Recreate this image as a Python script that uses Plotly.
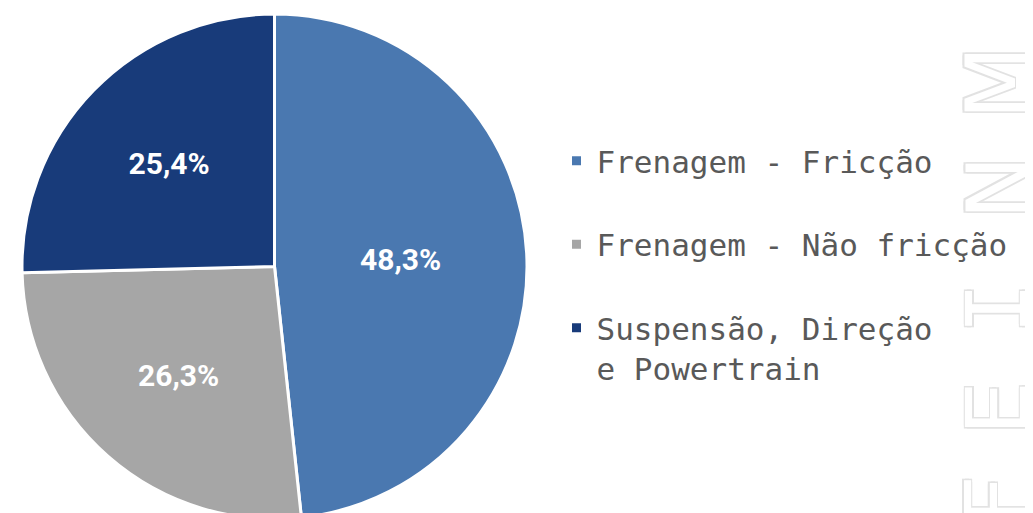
import plotly.graph_objects as go

categories = ["Frenagem - Fricção", "Frenagem - Não fricção", "Suspensão, Direção<br>e Powertrain"]
values = [48.3, 26.3, 25.4]
colors = ["#4A78B0", "#A6A6A6", "#183B7A"]

# faint outlined watermark letters on the right edge (read bottom to top)
wm_letters = ["M", "N", "I", "E", "F"]
wm_centers = [0.855, 0.650, 0.415, 0.220, 0.040]
wm_fonts = ["DejaVu Sans", "DejaVu Sans", "DejaVu Sans Mono", "DejaVu Sans", "DejaVu Sans"]

legend_labels = [c if "<br>" in c else c + "<br> " for c in categories]

fig = go.Figure()
fig.add_trace(go.Pie(
    labels=legend_labels,
    values=values,
    sort=False,
    direction="clockwise",
    rotation=0,
    marker=dict(colors=colors, line=dict(color="white", width=3)),
    texttemplate="%{percent:.1%}",
    textposition="inside",
    insidetextorientation="horizontal",
    textfont=dict(family="Roboto", size=30, color="white", weight="bold"),
    domain=dict(x=[14/1033, 519/1033], y=[0, 1 - 4/513]),
    hoverinfo="label+percent",
))

ol = "#E2E2E2"
shadow = f"1.5px 1.5px 0 {ol}, -1.5px -1.5px 0 {ol}, 1.5px -1.5px 0 {ol}, -1.5px 1.5px 0 {ol}"
for letter, yc, fam in zip(wm_letters, wm_centers, wm_fonts):
    fig.add_annotation(
        text=letter, xref="paper", yref="paper", x=1.008, y=yc,
        xanchor="right", yanchor="middle", textangle=-90, showarrow=False,
        font=dict(family=fam, size=86, color="white", shadow=shadow),
    )

fig.update_layout(
    width=1033, height=513,
    margin=dict(l=0, r=0, t=0, b=0),
    paper_bgcolor="white",
    separators=",.",
    showlegend=True,
    legend=dict(
        x=0.531, y=0.5, xanchor="left", yanchor="middle",
        font=dict(family="DejaVu Sans Mono", size=31, color="#595959"),
        valign="top",
        traceorder="normal",
        bgcolor="rgba(0,0,0,0)",
    ),
)

fig.write_html("out.html")
